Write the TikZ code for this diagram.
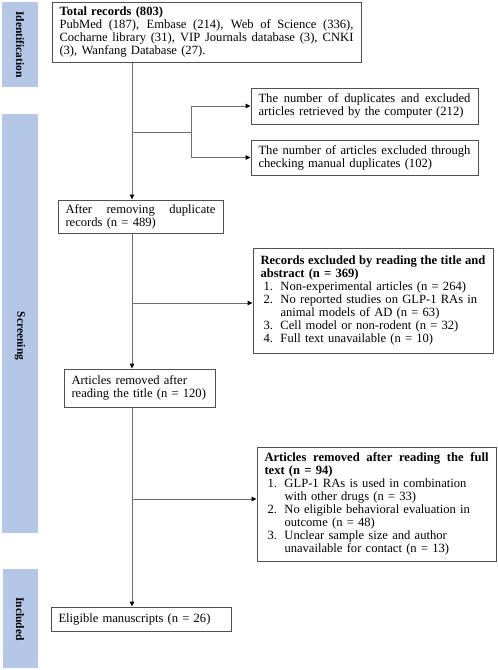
\documentclass[tikz,border=0pt]{standalone}
\usepackage{fontspec}
\setmainfont{Liberation Serif}
\usepackage{xcolor}
\usepackage{tikz}
\usetikzlibrary{arrows.meta,calc}
\setlength{\parindent}{0pt}
\definecolor{bandblue}{RGB}{180,199,231}
\definecolor{boxline}{RGB}{80,80,80}
\definecolor{linkgray}{RGB}{110,110,110}
\newcommand{\jl}[2]{\leavevmode\hbox to #1{\spaceskip=0pt\xspaceskip=0pt #2}}
\newcommand{\itm}[2]{\hspace*{3pt}\makebox[17pt][l]{#1}#2}
\newcommand{\itc}[1]{\hspace*{20pt}#1}

\begin{document}
\begin{tikzpicture}[x=1pt,y=-1pt,>={Triangle[length=5pt,width=4.6pt,color=black]},
  box/.style={draw=boxline,line width=1pt,rectangle,inner xsep=7.5pt,inner ysep=2pt,
    align=left,font=\fontsize{12.6}{13}\selectfont},
  band/.style={fill=bandblue,draw=none},
  phase/.style={rotate=-90,inner sep=0pt,font=\fontsize{11.5}{13}\selectfont\bfseries},
  link/.style={draw=linkgray,line width=1pt}]
  \useasboundingbox (0,0) rectangle (498,670);
  \fill[band] (2,2) rectangle (38,87);
  \fill[band] (2,114) rectangle (38,533);
  \fill[band] (3,569) rectangle (38,668);
  \node[phase] (ident) at (20,44.5) {Identification};
  \node[phase] (screen) at (20,336) {Screening};
  \node[phase] (incl) at (20,619) {Included};
  \node[box,text width=294pt,minimum height=60pt] (total) at (206.5,32) {%
    \textbf{Total records (803)}\\
    \jl{294pt}{PubMed (187), Embase (214), Web of Science (336),}\\
    \jl{294pt}{Cocharne library (31), VIP Journals database (3), CNKI}\\
    (3), Wanfang Database (27).};
  \node[box,text width=212pt,minimum height=36pt] (dupA) at (364.5,106) {%
    \jl{212pt}{The number of duplicates and excluded}\\
    articles retrieved by the computer (212)};
  \node[box,text width=212pt,minimum height=35pt] (dupB) at (364.5,157.5) {%
    \jl{212pt}{The number of articles excluded through}\\
    checking manual duplicates (102)};
  \node[box,text width=150pt,minimum height=33pt] (after) at (140.5,216.5) {%
    \jl{150pt}{After removing duplicate}\\
    records (n = 489)};
  \node[box,text width=225pt,minimum height=105pt] (recA) at (373,300.5) {%
    \jl{225pt}{\bfseries Records excluded by reading the title and}\\
    \textbf{abstract (n = 369)}\\
    \itm{1.}{Non-experimental articles (n = 264)}\\
    \itm{2.}{No reported studies on GLP-1 RAs in}\\
    \itc{animal models of AD (n = 63)}\\
    \itm{3.}{Cell model or non-rodent (n = 32)}\\
    \itm{4.}{Full text unavailable (n = 10)}};
  \node[box,text width=136pt,minimum height=38pt] (title) at (139.5,388) {%
    Articles removed after\\
    reading the title (n = 120)};
  \node[box,text width=224pt,minimum height=114pt] (full) at (376.5,504) {%
    \jl{224pt}{\bfseries Articles removed after reading the full}\\
    \textbf{text (n = 94)}\\
    \itm{1.}{GLP-1 RAs is used in combination}\\
    \itc{with other drugs (n = 33)}\\
    \itm{2.}{No eligible behavioral evaluation in}\\
    \itc{outcome (n = 48)}\\
    \itm{3.}{Unclear sample size and author}\\
    \itc{unavailable for contact (n = 13)}};
  \node[box,text width=165pt,minimum height=24pt] (elig) at (141,619) {%
    Eligible manuscripts (n = 26)};
  \coordinate (axis) at (132,0);
  \coordinate (j1) at (132,132);
  \coordinate (b1) at (191,132);
  \coordinate (j2) at (132,303);
  \coordinate (j3) at (132,499);
  \draw[link,->] (total.south -| axis) -- (after.north -| axis);
  \draw[link] (j1) -- (b1);
  \draw[link,->] (b1) |- (dupA.west);
  \draw[link,->] (b1) |- (dupB.west);
  \draw[link,->] (after.south -| axis) -- (title.north -| axis);
  \draw[link,->] (j2) -- (j2 -| recA.west);
  \draw[link,->] (title.south -| axis) -- (elig.north -| axis);
  \draw[link,->] (j3) -- (j3 -| full.west);
\end{tikzpicture}
\end{document}
